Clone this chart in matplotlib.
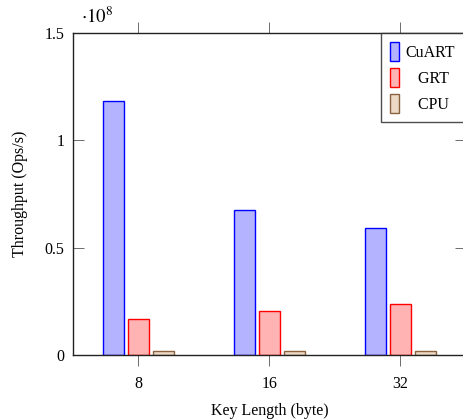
import matplotlib
matplotlib.use("Agg")
import matplotlib.pyplot as plt
import numpy as np

categories = ["8", "16", "32"]
series_names = ["CuART", "GRT", "CPU"]
cuart = [1.183e8, 0.675e8, 0.592e8]
grt = [0.166e8, 0.204e8, 0.238e8]
cpu = [0.020e8, 0.017e8, 0.017e8]
yticks = [0, 0.5e8, 1.0e8, 1.5e8]
ytick_labels = ["0", "0.5", "1", "1.5"]

plt.rcParams['font.family'] = ['Liberation Serif', 'DejaVu Serif']
plt.rcParams['font.size'] = 11.5
plt.rcParams['mathtext.fontset'] = 'stix'

fig = plt.figure(figsize=(4.64, 4.19), dpi=100)
ax = fig.add_axes([73/464, 1-355/419, (466-73)/464, (355-33)/419])

x = np.arange(len(categories))
w = 0.153
off = 0.191
fills = ['#b3b3ff', '#ffb3b3', '#ecd9c6']
edges = ['#0000ff', '#ff0000', '#8B6340']
for i, (vals, name) in enumerate(zip([cuart, grt, cpu], series_names)):
    ax.bar(x + (i-1)*off, vals, width=w, color=fills[i], edgecolor=edges[i],
           linewidth=1.0, label=name, zorder=2)

ax.set_xlim(-0.5, 2.5)
ax.set_ylim(0, 1.5e8)
ax.set_xticks(x)
ax.set_xticklabels(categories)
ax.set_yticks(yticks)
ax.set_yticklabels(ytick_labels)
ax.tick_params(axis='x', direction='out', length=8, width=0.6, color='#555555',
               top=True, bottom=True, pad=7)
ax.tick_params(axis='y', direction='in', length=8, width=0.6, color='#555555',
               left=True, right=True, pad=6)
for s in ax.spines.values():
    s.set_color('#222222')
    s.set_linewidth(1.0)
    s.set_zorder(3)

ax.set_xlabel("Key Length (byte)", labelpad=8)
ax.set_ylabel("Throughput (Ops/s)", labelpad=12)
ax.text(0.02, 1.02, r"$\cdot10^{8}$", transform=ax.transAxes, fontsize=13.5,
        ha='left', va='bottom')

handles, labels = ax.get_legend_handles_labels()
labels = ["CuART", "   GRT", "   CPU"]
leg = ax.legend(handles, labels, loc='upper left',
                bbox_to_anchor=((381-73)/393, 1.0), borderaxespad=0,
                handlelength=0.55, handleheight=1.5, handletextpad=0.45,
                labelspacing=0.4, borderpad=0.55, frameon=True, fancybox=False)
leg.get_frame().set_edgecolor('#222222')
leg.get_frame().set_linewidth(1.0)

fig.savefig("out.png", dpi=100)
